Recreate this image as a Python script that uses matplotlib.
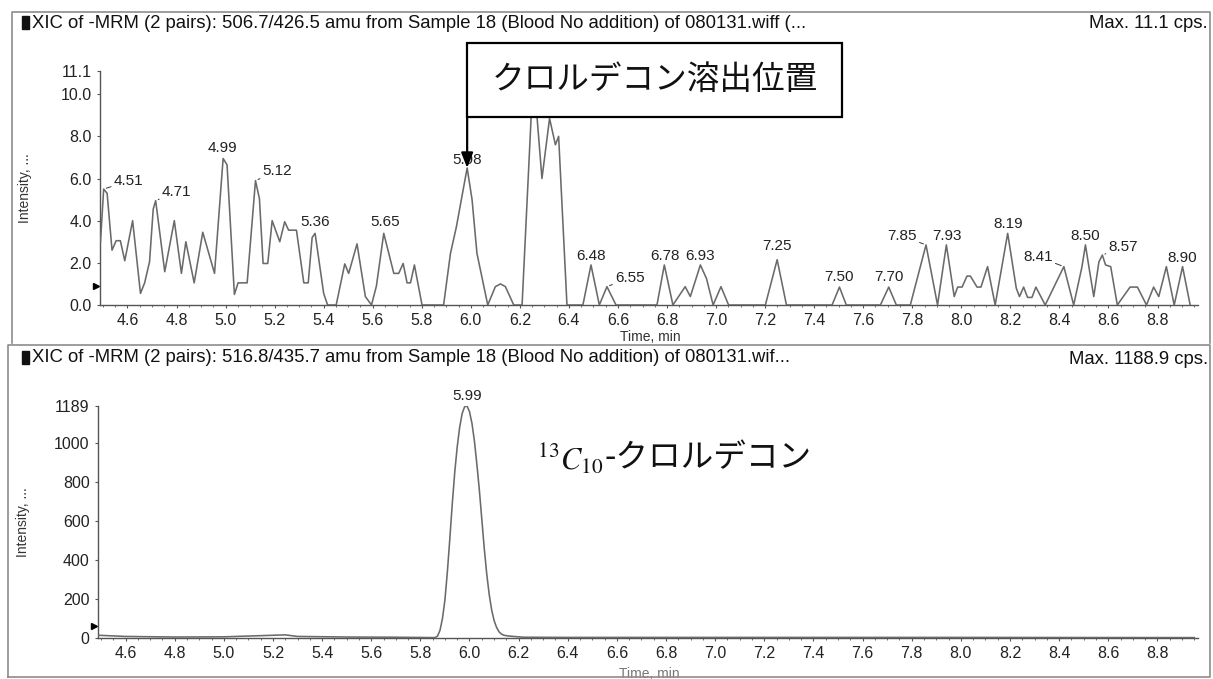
import matplotlib.pyplot as plt
from matplotlib.patches import Rectangle
from matplotlib.lines import Line2D
from matplotlib.ticker import MultipleLocator

plt.rcParams['font.family'] = ['Liberation Sans', 'Noto Sans CJK JP', 'DejaVu Sans']
plt.rcParams['mathtext.fontset'] = 'stix'

W, H = 1213, 679

# upper trace: 506.7/426.5 transition (time min, intensity cps)
TOP_TIME = [4.490, 4.503, 4.517, 4.537, 4.554, 4.571, 4.589, 4.621, 4.653, 4.670,
            4.690, 4.705, 4.715, 4.752, 4.791, 4.820, 4.838, 4.872, 4.907, 4.955,
            4.990, 5.006, 5.036, 5.051, 5.088, 5.122, 5.138, 5.153, 5.172, 5.190,
            5.221, 5.241, 5.257, 5.289, 5.319, 5.337, 5.353, 5.365, 5.400, 5.416,
            5.451, 5.486, 5.502, 5.536, 5.570, 5.595, 5.615, 5.645, 5.686, 5.706,
            5.724, 5.740, 5.754, 5.770, 5.801, 5.889, 5.917, 5.941, 5.985, 6.005,
            6.025, 6.069, 6.100, 6.121, 6.141, 6.175, 6.209, 6.255, 6.290, 6.321,
            6.345, 6.358, 6.392, 6.457, 6.490, 6.524, 6.555, 6.592, 6.759, 6.789,
            6.824, 6.874, 6.895, 6.936, 6.961, 6.988, 7.020, 7.051, 7.201, 7.249,
            7.287, 7.473, 7.503, 7.531, 7.670, 7.704, 7.735, 7.792, 7.856, 7.903,
            7.939, 7.971, 7.985, 8.003, 8.023, 8.037, 8.064, 8.080, 8.107, 8.138,
            8.189, 8.224, 8.237, 8.254, 8.270, 8.288, 8.304, 8.342, 8.418, 8.458,
            8.492, 8.506, 8.520, 8.540, 8.561, 8.575, 8.588, 8.609, 8.636, 8.688,
            8.718, 8.755, 8.784, 8.805, 8.836, 8.868, 8.902, 8.933]
TOP_INT = [3.0, 5.5, 5.3, 2.6, 3.05, 3.05, 2.1, 4.0, 0.55, 1.05,
           2.05, 4.55, 4.95, 1.58, 4.0, 1.5, 3.0, 1.05, 3.45, 1.5,
           6.95, 6.65, 0.5, 1.05, 1.05, 5.9, 5.05, 1.97, 1.97, 4.0,
           3.0, 3.95, 3.55, 3.55, 1.05, 1.05, 3.2, 3.4, 0.55, 0.0,
           0.0, 1.95, 1.5, 2.9, 0.4, 0.0, 0.9, 3.4, 1.5, 1.5,
           1.97, 1.05, 1.05, 1.9, 0.0, 0.0, 2.45, 3.7, 6.5, 5.0,
           2.45, 0.0, 0.87, 1.0, 0.87, 0.0, 0.0, 11.1, 6.0, 8.85,
           7.6, 8.0, 0.0, 0.0, 1.9, 0.0, 0.87, 0.0, 0.0, 1.9,
           0.0, 0.87, 0.4, 1.9, 1.25, 0.0, 0.87, 0.0, 0.0, 2.15,
           0.0, 0.0, 0.85, 0.0, 0.0, 0.85, 0.0, 0.0, 2.85, 0.0,
           2.85, 0.4, 0.85, 0.85, 1.37, 1.37, 0.85, 0.85, 1.82, 0.0,
           3.4, 0.8, 0.4, 0.85, 0.36, 0.36, 0.85, 0.0, 1.82, 0.0,
           1.82, 2.85, 1.82, 0.4, 2.05, 2.37, 1.9, 1.82, 0.0, 0.85,
           0.85, 0.0, 0.85, 0.4, 1.82, 0.0, 1.82, 0.0]
TOP_PEAKS = ["4.51", "4.71", "4.99", "5.12", "5.36", "5.65", "5.98", "6.48", "6.55",
             "6.78", "6.93", "7.25", "7.50", "7.70", "7.85", "7.93", "8.19", "8.41",
             "8.50", "8.57", "8.90"]

# lower trace: 516.8/435.7 transition (13C10 internal standard)
BOT_TIME = [4.49, 4.60, 4.80, 5.00, 5.10, 5.20, 5.25, 5.30, 5.50, 5.70,
            5.86, 5.87, 5.88, 5.89, 5.90, 5.91, 5.92, 5.93, 5.94, 5.95,
            5.96, 5.97, 5.98, 5.99, 6.00, 6.01, 6.02, 6.03, 6.04, 6.05,
            6.06, 6.07, 6.08, 6.09, 6.10, 6.11, 6.12, 6.13, 6.14, 6.16,
            6.18, 6.20, 6.22, 6.40, 7.00, 8.00, 8.95]
BOT_INT = [14, 8, 5, 6, 10, 14, 16, 8, 5, 4,
           2, 10, 40, 100, 195, 340, 510, 690, 850, 980,
           1080, 1150, 1185, 1189, 1160, 1100, 1010, 890, 760, 610,
           460, 330, 225, 145, 90, 55, 32, 20, 14, 10,
           8, 6, 4, 3, 3, 3, 2]
BOT_PEAKS = ["5.99"]

X_TICKS = [4.6, 4.8, 5.0, 5.2, 5.4, 5.6, 5.8, 6.0, 6.2, 6.4, 6.6,
           6.8, 7.0, 7.2, 7.4, 7.6, 7.8, 8.0, 8.2, 8.4, 8.6, 8.8]
TOP_YTICKS = [0.0, 2.0, 4.0, 6.0, 8.0, 10.0, 11.1]
BOT_YTICKS = [0, 200, 400, 600, 800, 1000, 1189]

TOP_TITLE = "XIC of -MRM (2 pairs): 506.7/426.5 amu from Sample 18 (Blood No addition) of 080131.wiff (..."
BOT_TITLE = "XIC of -MRM (2 pairs): 516.8/435.7 amu from Sample 18 (Blood No addition) of 080131.wif..."
TOP_MAX = "Max. 11.1 cps."
BOT_MAX = "Max. 1188.9 cps."
NOTE_TOP = "クロルデコン溶出位置"
NOTE_BOT_ISO = r"$^{13}C_{10}$"
NOTE_BOT_NAME = "-クロルデコン"

# label placement in pixels (dx, up, leader line)
LABEL_POS = {"4.51": (25, 8, True), "4.71": (21, 9, True), "4.99": (-1, 10, False),
             "5.12": (22, 10, True), "5.36": (0, 11, False), "5.65": (1, 11, False),
             "5.98": (0, 8, False), "6.48": (0, 9, False), "6.55": (23, 9, True),
             "6.78": (1, 9, False), "6.93": (0, 9, False), "7.25": (0, 14, False),
             "7.50": (0, 10, False), "7.70": (0, 10, False), "7.85": (-24, 9, True),
             "7.93": (1, 9, False), "8.19": (1, 9, False), "8.41": (-26, 10, True),
             "8.50": (0, 9, False), "8.57": (21, 8, True), "8.90": (0, 9, False),
             "5.99": (0, 10, False)}

XLIM = (4.488, 8.965)
LINE_C = '#6a6a6a'
SPINE_C = '#555555'
TITLE_FS = 13.3


def fx(px):
    return px / W


def fy(py):
    return 1 - py / H


def peak_of(times, vals, label):
    t0 = float(label)
    best = None
    for t, v in zip(times, vals):
        if abs(t - t0) <= 0.025 and (best is None or v > best[1]):
            best = (t, v)
    return best


def draw_panel(ax, times, vals, peaks, yticks, yfmt, ylim, xlab_y, tri_y, xlab_c):
    ax.plot(times, vals, color=LINE_C, lw=1.15, zorder=3)
    ax.set_xlim(*XLIM)
    ax.set_ylim(*ylim)
    for s in ['top', 'right']:
        ax.spines[s].set_visible(False)
    for s in ['left', 'bottom']:
        ax.spines[s].set_color(SPINE_C)
        ax.spines[s].set_linewidth(1.0)
    ax.set_xticks(X_TICKS)
    ax.set_xticklabels(["%.1f" % v for v in X_TICKS])
    ax.set_yticks(yticks)
    ax.set_yticklabels([yfmt % v for v in yticks])
    ax.xaxis.set_minor_locator(MultipleLocator(0.05))
    ax.tick_params(axis='both', which='major', direction='out', length=2.5, width=0.8,
                   color=SPINE_C, labelsize=11.5, labelcolor='#222222', pad=3.5)
    ax.tick_params(axis='both', which='minor', direction='out', length=1.5, width=0.6,
                   color=SPINE_C)
    ax.set_ylabel("Intensity, ...", fontsize=10, color='#333333')
    ax.yaxis.set_label_coords(-0.062, 0.5)
    ax.set_xlabel("Time, min", fontsize=10, color=xlab_c)
    ax.xaxis.set_label_coords(0.501, xlab_y)
    ax.plot([-0.004], [tri_y], marker='>', ms=5, color='black',
            transform=ax.transAxes, clip_on=False)
    for lab in peaks:
        tp, vp = peak_of(times, vals, lab)
        dx, up, leader = LABEL_POS[lab]
        kw = {}
        if leader:
            kw['arrowprops'] = dict(arrowstyle='-', color='#333333', lw=0.7,
                                    shrinkA=0, shrinkB=2)
        ax.annotate(lab, xy=(tp, vp), xytext=(dx * 0.72, up * 0.72),
                    textcoords='offset points', ha='center', va='center',
                    fontsize=11, color='#222222', zorder=4,
                    annotation_clip=False, **kw)


fig = plt.figure(figsize=(W / 100, H / 100), dpi=100)
ax1 = fig.add_axes([fx(100), fy(305), (1198 - 100) / W, (305 - 71) / H])
ax2 = fig.add_axes([fx(98), fy(638), (1198 - 98) / W, (638 - 406) / H])

draw_panel(ax1, TOP_TIME, TOP_INT, TOP_PEAKS, TOP_YTICKS, "%.1f", (0, 11.1),
           -0.107, 0.081, '#333333')
draw_panel(ax2, BOT_TIME, BOT_INT, BOT_PEAKS, BOT_YTICKS, "%d", (0, 1189),
           -0.124, 0.05, '#777777')

# panel frames
frame = dict(transform=fig.transFigure, color='#8c8c8c', lw=1.2)
fig.add_artist(Line2D([fx(12), fx(12), fx(1210), fx(1210)],
                      [fy(343), fy(12), fy(12), fy(343)], **frame))
fig.add_artist(Line2D([fx(8), fx(8), fx(1210), fx(1210), fx(8)],
                      [fy(677), fy(345), fy(345), fy(677), fy(677)], **frame))

# header lines
for yy, title, mx in [(23, TOP_TITLE, TOP_MAX), (358, BOT_TITLE, BOT_MAX)]:
    fig.add_artist(Rectangle((fx(22), fy(yy + 6)), 7 / W, 13 / H,
                             transform=fig.transFigure, color='#111111'))
    fig.text(fx(32), fy(yy), title, fontsize=TITLE_FS, color='#111111',
             ha='left', va='center')
    fig.text(fx(1208), fy(yy + 1), mx, fontsize=TITLE_FS, color='#111111',
             ha='right', va='center')

# elution position callout
tp, vp = peak_of(TOP_TIME, TOP_INT, "5.98")
box = Rectangle((fx(467), fy(117)), (842 - 467) / W, (117 - 43) / H,
                transform=fig.transFigure, facecolor='white', edgecolor='black',
                lw=1.6, zorder=5)
fig.add_artist(box)
fig.text(fx(655), fy(80), NOTE_TOP, fontsize=23.5, color='#111111',
         ha='center', va='center', zorder=6)
ax1.annotate('', xy=(tp, vp), xytext=(tp, H - 117),
             xycoords='data', textcoords=('data', 'figure pixels'),
             arrowprops=dict(arrowstyle='-|>,head_length=0.9,head_width=0.35',
                             color='black', lw=1.6, shrinkA=0, shrinkB=0),
             annotation_clip=False, zorder=6)

# internal standard label
fig.text(fx(537), fy(460), NOTE_BOT_ISO, fontsize=22, color='#111111',
         ha='left', va='center')
fig.text(fx(604), fy(458), NOTE_BOT_NAME, fontsize=23.5, color='#111111',
         ha='left', va='center', family=['Noto Sans CJK JP', 'DejaVu Sans'])

plt.savefig("out.png", dpi=100)
